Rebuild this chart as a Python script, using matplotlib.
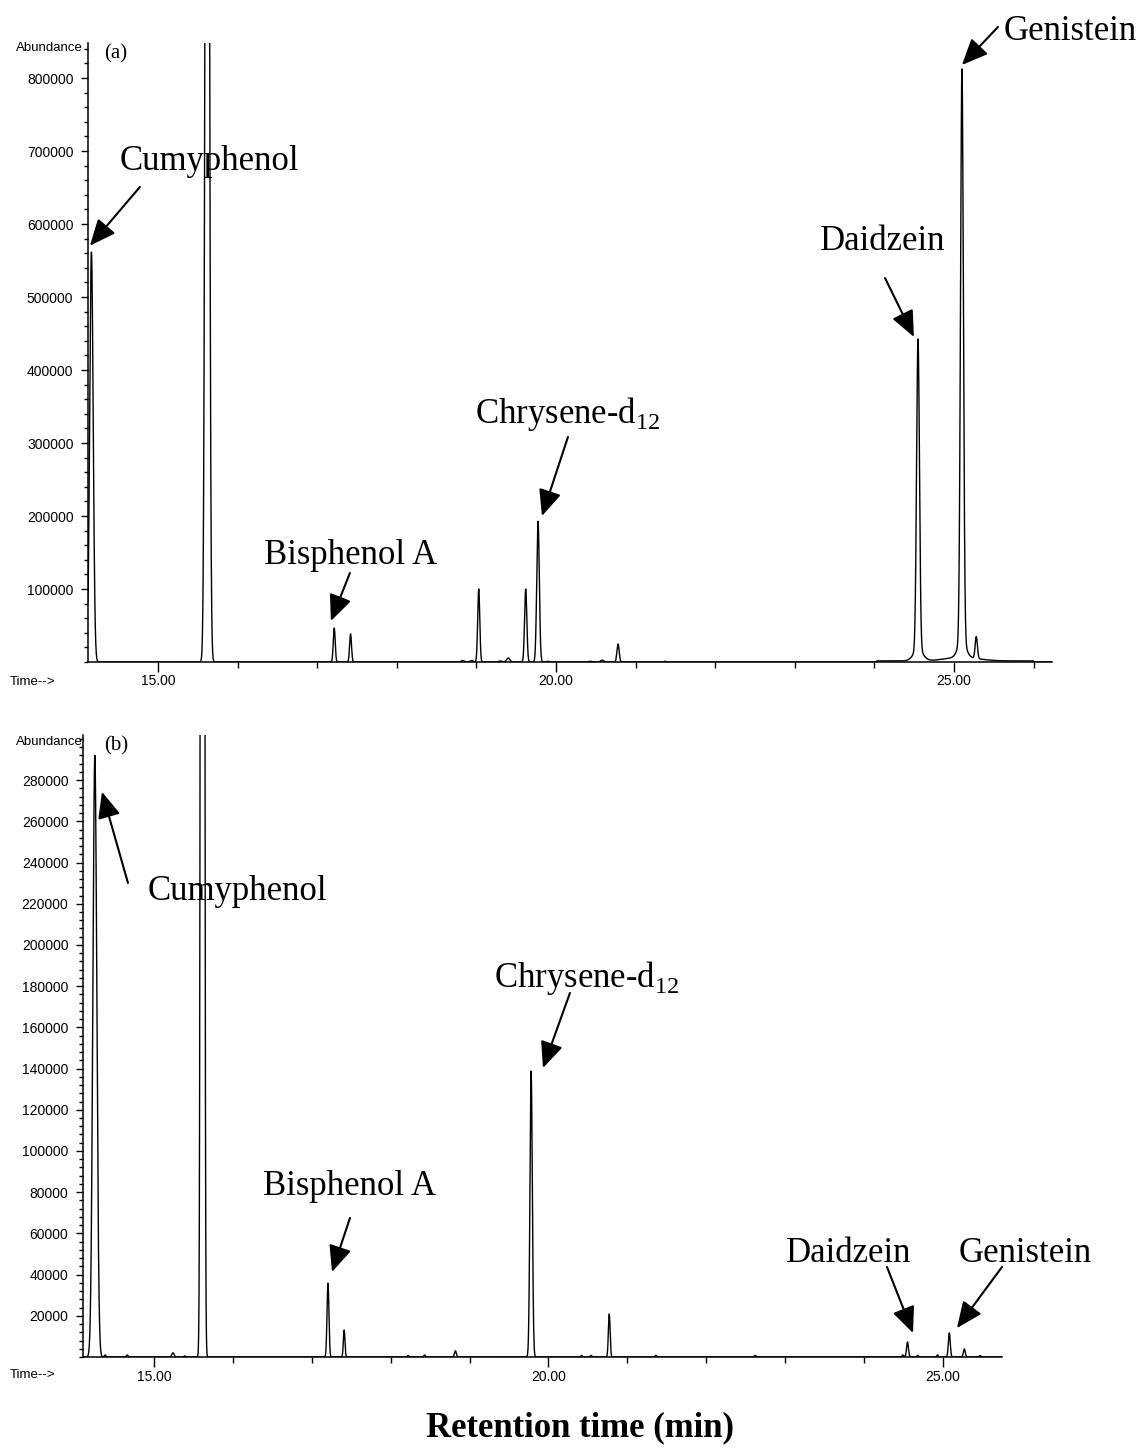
import numpy as np
import matplotlib
matplotlib.use("Agg")
import matplotlib.pyplot as plt
from matplotlib.ticker import MultipleLocator, FuncFormatter

# Peak tables: retention time (min), abundance, peak sigma (min)
peak_time_a = [14.165, 15.62, 17.215, 17.42, 18.83, 18.94, 19.03, 19.30, 19.40, 19.62,
               19.775, 19.90, 20.43, 20.58, 20.78, 21.37, 24.548, 24.55, 25.10, 25.10,
               25.10, 25.28]
peak_height_a = [562000, 2500000, 46600, 38400, 2000, 2000, 100000, 1500, 5500, 100000,
                 193000, 1000, 1000, 2500, 24700, 1000, 426000, 15000, 784000, 22000,
                 5000, 30000]
peak_sigma_a = [0.022, 0.021, 0.012, 0.012, 0.02, 0.02, 0.013, 0.02, 0.02, 0.014,
                0.016, 0.01, 0.02, 0.02, 0.014, 0.01, 0.018, 0.06, 0.018, 0.05,
                0.2, 0.014]
# raised baseline segment (start, end, level)
baseline_a = [(24.03, 26.0, 1500)]

peak_time_b = [14.25, 15.615, 14.38, 14.66, 15.24, 15.39, 17.205, 17.41, 18.22, 18.43,
               18.82, 19.78, 20.42, 20.54, 20.77, 21.36, 22.62, 24.49, 24.55, 24.68,
               24.93, 25.08, 25.27, 25.47]
peak_height_b = [292000, 3000000, 1000, 1000, 2000, 500, 35900, 13100, 700, 1000,
                 3000, 138800, 800, 800, 20900, 800, 800, 1000, 7300, 800,
                 1000, 11700, 3900, 700]
peak_sigma_b = [0.025, 0.0147, 0.01, 0.01, 0.015, 0.01, 0.012, 0.01, 0.01, 0.01,
                0.012, 0.015, 0.01, 0.01, 0.011, 0.01, 0.01, 0.01, 0.012, 0.01,
                0.01, 0.012, 0.012, 0.01]
baseline_b = []

compounds = ["Cumyphenol", "Bisphenol A", "Chrysene-d$_{\\mathregular{12}}$",
             "Daidzein", "Genistein"]

SERIF = "Liberation Serif"
SANS = "Liberation Sans"


def trace(t, times, heights, sigmas, base):
    y = np.zeros_like(t)
    for c, h, s in zip(times, heights, sigmas):
        y += h * np.exp(-0.5 * ((t - c) / s) ** 2)
    for t0, t1, lev in base:
        y[(t >= t0) & (t <= t1)] += lev
    return y


def setup_axis(ax, xlim, ymax, ymajor, yminor):
    ax.set_xlim(*xlim)
    ax.set_ylim(0, ymax)
    for s in ["top", "right"]:
        ax.spines[s].set_visible(False)
    for s in ["left", "bottom"]:
        ax.spines[s].set_linewidth(1.1)
    ax.xaxis.set_major_locator(MultipleLocator(5))
    ax.xaxis.set_minor_locator(MultipleLocator(1))
    ax.xaxis.set_major_formatter(FuncFormatter(lambda v, p: f"{v:.2f}"))
    ax.set_yticks(np.arange(ymajor, ymax - 0.1 * ymajor, ymajor))
    ax.yaxis.set_minor_locator(MultipleLocator(yminor))
    ax.yaxis.set_major_formatter(FuncFormatter(lambda v, p: f"{v:.0f}"))
    ax.tick_params(axis="x", which="major", length=7, width=1, pad=2, labelsize=10)
    ax.tick_params(axis="x", which="minor", length=4, width=1)
    ax.tick_params(axis="y", which="major", length=5, width=1, pad=5.5, labelsize=10)
    ax.tick_params(axis="y", which="minor", length=3, width=1)
    for lab in ax.get_xticklabels() + ax.get_yticklabels():
        lab.set_fontfamily(SANS)


def label(ax, text, pos, tail, head, ha="center"):
    ax.text(pos[0], pos[1], text, fontsize=25, family=SERIF, ha=ha, va="baseline",
            clip_on=False)
    ax.annotate("", xy=head, xytext=tail, annotation_clip=False,
                arrowprops=dict(arrowstyle="-|>,head_length=0.8,head_width=0.35",
                                mutation_scale=20, lw=1.5, color="black",
                                shrinkA=0, shrinkB=0))


fig = plt.figure(figsize=(11.42, 14.55), dpi=100)
ax_a = fig.add_axes([0.07706, 0.54502, 0.84413, 0.42543])
ax_b = fig.add_axes([0.07268, 0.06735, 0.80473, 0.42749])

# panel (a)
xlim_a = (14.122, 26.231)
t_a = np.arange(xlim_a[0], xlim_a[1], 0.002)
ax_a.plot(t_a, trace(t_a, peak_time_a, peak_height_a, peak_sigma_a, baseline_a),
          color="black", lw=1.0)
setup_axis(ax_a, xlim_a, 848000, 100000, 20000)
ax_a.text(14.472, 826100, "(a)", fontsize=15, family=SERIF, ha="center", va="baseline")
label(ax_a, compounds[0], (15.653, 674000), (14.774, 650800), (14.146, 570400))
label(ax_a, compounds[1], (17.425, 134300), (17.412, 121900), (17.173, 56200))
label(ax_a, compounds[2], (20.151, 327400), (20.151, 308300), (19.824, 200000))
label(ax_a, compounds[3], (24.108, 564400), (24.133, 526100), (24.497, 445300))
label(ax_a, compounds[4], (25.628, 852100), (25.553, 870000), (25.10, 817900), ha="left")

# panel (b)
xlim_b = (14.100, 25.748)
t_b = np.arange(xlim_b[0], xlim_b[1], 0.002)
ax_b.plot(t_b, trace(t_b, peak_time_b, peak_height_b, peak_sigma_b, baseline_b),
          color="black", lw=1.0)
setup_axis(ax_b, xlim_b, 301900, 20000, 4000)
ax_b.text(14.52, 294600, "(b)", fontsize=15, family=SERIF, ha="center", va="baseline")
label(ax_b, compounds[0], (16.052, 221800), (14.670, 230100), (14.341, 274300))
label(ax_b, compounds[1], (17.484, 78600), (17.484, 67500), (17.256, 41300))
label(ax_b, compounds[2], (20.488, 179600), (20.272, 176700), (19.930, 140300))
label(ax_b, compounds[3], (23.809, 46100), (24.29, 43700), (24.62, 11650))
label(ax_b, compounds[4], (26.039, 46100), (25.748, 43700), (25.177, 14080))

# instrument-style axis captions
for ytop, ytime in [(48, 682), (742, 1375)]:
    fig.text(83 / 1142, 1 - ytop / 1455, "Abundance", fontsize=9.5, family=SANS,
             ha="right", va="center")
    fig.text(10 / 1142, 1 - ytime / 1455, "Time-->", fontsize=9.5, family=SANS,
             ha="left", va="center")

fig.text(580 / 1142, 1 - 1436 / 1455, "Retention time (min)", fontsize=25,
         family=SERIF, weight="bold", ha="center", va="baseline")

fig.savefig("out.png", dpi=100)
